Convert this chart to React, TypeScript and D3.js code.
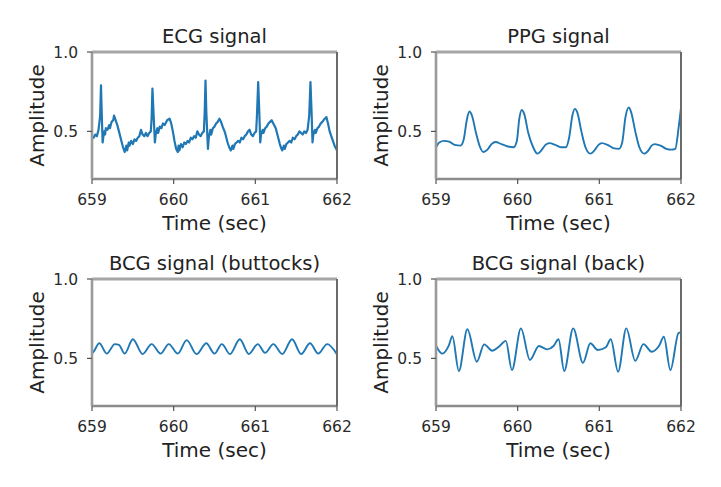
import * as d3 from 'd3'

type Pt = [number, number]

// time (sec), amplitude
const ecgSignal: Pt[] = [
  [659.0, 0.47], [659.02, 0.46], [659.04, 0.48], [659.06, 0.47], [659.08, 0.51], [659.1, 0.6],
  [659.11, 0.79], [659.12, 0.6], [659.13, 0.43], [659.14, 0.47], [659.15, 0.5], [659.16, 0.48],
  [659.17, 0.52], [659.19, 0.51], [659.21, 0.54], [659.22, 0.52], [659.24, 0.56], [659.26, 0.57],
  [659.27, 0.6], [659.29, 0.57], [659.31, 0.54], [659.33, 0.5], [659.36, 0.44], [659.38, 0.4],
  [659.4, 0.37], [659.42, 0.41], [659.43, 0.38], [659.45, 0.43], [659.46, 0.41], [659.48, 0.44],
  [659.5, 0.42], [659.52, 0.45], [659.54, 0.44], [659.56, 0.46], [659.58, 0.47], [659.6, 0.51],
  [659.62, 0.48], [659.64, 0.47], [659.66, 0.49], [659.68, 0.47], [659.7, 0.49], [659.72, 0.5],
  [659.73, 0.58], [659.74, 0.77], [659.755, 0.6], [659.77, 0.43], [659.78, 0.48], [659.8, 0.52],
  [659.81, 0.49], [659.83, 0.53], [659.85, 0.52], [659.87, 0.55], [659.89, 0.54], [659.92, 0.57],
  [659.95, 0.58], [659.97, 0.55], [659.99, 0.5], [660.01, 0.44], [660.03, 0.39], [660.05, 0.37],
  [660.06, 0.41], [660.07, 0.38], [660.09, 0.42], [660.11, 0.4], [660.13, 0.43], [660.15, 0.42],
  [660.17, 0.44], [660.19, 0.43], [660.21, 0.46], [660.23, 0.45], [660.25, 0.47], [660.27, 0.46],
  [660.29, 0.5], [660.31, 0.48], [660.33, 0.47], [660.35, 0.49], [660.37, 0.5], [660.38, 0.62],
  [660.39, 0.82], [660.4, 0.62], [660.42, 0.39], [660.43, 0.46], [660.45, 0.51], [660.46, 0.48],
  [660.48, 0.52], [660.5, 0.53], [660.52, 0.55], [660.54, 0.56], [660.56, 0.58], [660.58, 0.56],
  [660.6, 0.53], [660.63, 0.49], [660.66, 0.43], [660.68, 0.4], [660.7, 0.38], [660.72, 0.41],
  [660.73, 0.39], [660.75, 0.42], [660.77, 0.43], [660.79, 0.44], [660.81, 0.43], [660.83, 0.46],
  [660.85, 0.45], [660.87, 0.47], [660.89, 0.48], [660.91, 0.5], [660.93, 0.51], [660.95, 0.48],
  [660.97, 0.47], [660.99, 0.49], [661.01, 0.5], [661.02, 0.6], [661.035, 0.81], [661.05, 0.6],
  [661.06, 0.43], [661.07, 0.48], [661.09, 0.51], [661.1, 0.49], [661.12, 0.52], [661.14, 0.53],
  [661.16, 0.55], [661.18, 0.56], [661.2, 0.57], [661.22, 0.55], [661.25, 0.52], [661.27, 0.48],
  [661.3, 0.42], [661.32, 0.39], [661.33, 0.38], [661.35, 0.41], [661.36, 0.39], [661.38, 0.42],
  [661.4, 0.43], [661.42, 0.44], [661.44, 0.43], [661.46, 0.46], [661.48, 0.45], [661.5, 0.47],
  [661.52, 0.48], [661.54, 0.5], [661.56, 0.49], [661.58, 0.48], [661.6, 0.5], [661.62, 0.49],
  [661.64, 0.51], [661.66, 0.6], [661.675, 0.81], [661.69, 0.6], [661.7, 0.43], [661.71, 0.48],
  [661.73, 0.51], [661.74, 0.49], [661.76, 0.52], [661.78, 0.53], [661.8, 0.55], [661.82, 0.56],
  [661.85, 0.58], [661.87, 0.59], [661.89, 0.55], [661.91, 0.5], [661.93, 0.47], [661.95, 0.44],
  [661.97, 0.41], [661.99, 0.39], [662.0, 0.38],
]

const ppgSignal: Pt[] = [
  [659.0, 0.4], [659.04, 0.43], [659.1, 0.44], [659.16, 0.435], [659.23, 0.415], [659.3, 0.41],
  [659.34, 0.45], [659.38, 0.58], [659.41, 0.625], [659.44, 0.6], [659.49, 0.49], [659.54, 0.4],
  [659.58, 0.37], [659.63, 0.385], [659.68, 0.42], [659.73, 0.433], [659.8, 0.42], [659.88, 0.405],
  [659.95, 0.4], [659.99, 0.44], [660.02, 0.58], [660.05, 0.635], [660.08, 0.61], [660.13, 0.49],
  [660.19, 0.4], [660.24, 0.36], [660.29, 0.38], [660.34, 0.415], [660.39, 0.426], [660.46, 0.415],
  [660.53, 0.4], [660.59, 0.4], [660.63, 0.46], [660.67, 0.6], [660.7, 0.642], [660.73, 0.62],
  [660.78, 0.5], [660.83, 0.4], [660.89, 0.36], [660.94, 0.38], [660.99, 0.415], [661.03, 0.426],
  [661.1, 0.415], [661.17, 0.395], [661.24, 0.39], [661.28, 0.43], [661.32, 0.59], [661.36, 0.65],
  [661.39, 0.62], [661.44, 0.5], [661.49, 0.4], [661.55, 0.36], [661.6, 0.38], [661.64, 0.41],
  [661.68, 0.42], [661.75, 0.41], [661.82, 0.39], [661.88, 0.385], [661.93, 0.39], [661.97, 0.52],
  [662.0, 0.65],
]

const bcgButtocks: Pt[] = [
  [659.0, 0.53], [659.02, 0.542], [659.09, 0.595], [659.18, 0.53], [659.28, 0.59], [659.33, 0.585],
  [659.4, 0.53], [659.5, 0.62], [659.62, 0.527], [659.73, 0.59], [659.84, 0.53], [659.94, 0.59],
  [660.05, 0.53], [660.16, 0.615], [660.28, 0.527], [660.4, 0.595], [660.5, 0.53], [660.59, 0.59],
  [660.69, 0.527], [660.81, 0.62], [660.92, 0.527], [661.03, 0.59], [661.12, 0.535], [661.22, 0.59],
  [661.33, 0.527], [661.45, 0.62], [661.56, 0.527], [661.67, 0.595], [661.77, 0.53], [661.88, 0.59],
  [662.0, 0.525],
]

const bcgBack: Pt[] = [
  [659.0, 0.58], [659.077, 0.53], [659.159, 0.584], [659.2, 0.64], [659.28, 0.42], [659.384, 0.683],
  [659.5, 0.479], [659.59, 0.588], [659.69, 0.548], [659.77, 0.573], [659.855, 0.61], [659.93, 0.426],
  [660.04, 0.689], [660.15, 0.49], [660.26, 0.578], [660.36, 0.557], [660.44, 0.578], [660.5, 0.62],
  [660.57, 0.42], [660.68, 0.689], [660.8, 0.472], [660.89, 0.595], [660.98, 0.553], [661.08, 0.57],
  [661.14, 0.62], [661.23, 0.416], [661.33, 0.689], [661.44, 0.485], [661.54, 0.59], [661.64, 0.542],
  [661.73, 0.578], [661.79, 0.636], [661.87, 0.426], [661.97, 0.66], [662.0, 0.665],
]

const xTicks = [659, 660, 661, 662]
const yTicks = [0.5, 1.0]
const xDomain: [number, number] = [659, 662]
const yDomain: [number, number] = [0.2, 1.0]

const font = '"DejaVu Sans", sans-serif'
const lineColor = '#1f77b4'

type PanelProps = {
  title: string
  data: Pt[]
  left: number
  top: number
  width: number
  height: number
  smooth?: boolean
  strokeWidth?: number
}

function Panel({ title, data, left, top, width, height, smooth, strokeWidth = 1.9 }: PanelProps) {
  const x = d3.scaleLinear().domain(xDomain).range([0, width])
  const y = d3.scaleLinear().domain(yDomain).range([height, 0])
  const line = d3
    .line<Pt>()
    .x((d) => x(d[0]))
    .y((d) => y(d[1]))
    .curve(smooth ? d3.curveMonotoneX : d3.curveLinear)
  const clipId = `clip-${title.replace(/\W/g, '')}`

  return (
    <g transform={`translate(${left},${top})`}>
      <defs>
        <clipPath id={clipId}>
          <rect x={0} y={0} width={width} height={height} />
        </clipPath>
      </defs>
      <path
        d={line(data) ?? undefined}
        fill="none"
        stroke={lineColor}
        strokeWidth={strokeWidth}
        strokeLinejoin="round"
        clipPath={`url(#${clipId})`}
      />
      {/* spines */}
      <line x1={0} x2={width} y1={0} y2={0} stroke="#a6a6a6" strokeWidth={3} />
      <line x1={0} x2={width} y1={height} y2={height} stroke="#8c8c8c" strokeWidth={2.5} />
      <line x1={0} x2={0} y1={0} y2={height} stroke="#9a9a9a" strokeWidth={2.6} />
      <line x1={width} x2={width} y1={0} y2={height} stroke="#6a6a6a" strokeWidth={2} />
      {xTicks.map((t) => (
        <g key={t} transform={`translate(${x(t)},${height})`}>
          <line y1={0} y2={5} stroke="#555" strokeWidth={1.2} />
          <text y={26} textAnchor="middle" fontSize={15.5} fill="#2a2a2a" fontFamily={font}>
            {t}
          </text>
        </g>
      ))}
      {yTicks.map((t) => (
        <g key={t} transform={`translate(0,${y(t)})`}>
          <line x1={-5} x2={0} stroke="#555" strokeWidth={1.2} />
          <text x={-14} dy="0.36em" textAnchor="end" fontSize={15.5} fill="#2a2a2a" fontFamily={font}>
            {t.toFixed(1)}
          </text>
        </g>
      ))}
      <text x={width / 2} y={-9} textAnchor="middle" fontSize={19.5} fill="#222" fontFamily={font}>
        {title}
      </text>
      <text x={width / 2} y={height + 51} textAnchor="middle" fontSize={20} fill="#222" fontFamily={font}>
        Time (sec)
      </text>
      <text
        transform={`translate(-48,${height / 2}) rotate(-90)`}
        textAnchor="middle"
        fontSize={20}
        fill="#222"
        fontFamily={font}
      >
        Amplitude
      </text>
    </g>
  )
}

export default function App() {
  const w = 245
  const h = 127
  return (
    <svg
      width={721}
      height={487}
      style={{ position: 'absolute', left: 0, top: 0, background: '#fff' }}
    >
      <rect width={721} height={487} fill="#fff" />
      <Panel title="ECG signal" data={ecgSignal} left={92} top={52} width={w} height={h} strokeWidth={2.2} />
      <Panel title="PPG signal" data={ppgSignal} left={436} top={52} width={w} height={h} smooth />
      <Panel title="BCG signal (buttocks)" data={bcgButtocks} left={92} top={279} width={w} height={h} smooth />
      <Panel title="BCG signal (back)" data={bcgBack} left={436} top={279} width={w} height={h} smooth />
    </svg>
  )
}
